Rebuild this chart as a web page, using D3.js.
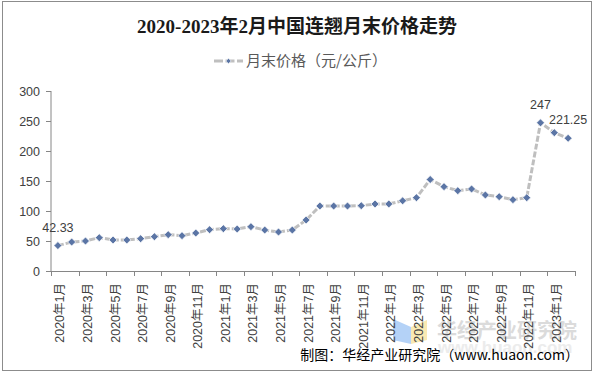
<!DOCTYPE html>
<html>
<head>
<meta charset="utf-8">
<script src="https://cdn.jsdelivr.net/npm/d3@7"></script>
<style>
html,body{margin:0;padding:0;background:#fff;}
svg{display:block;}
</style>
</head>
<body>
<svg id="chart" width="595" height="374"></svg>
<script>
const months = [
  "2020年1月","2020年2月","2020年3月","2020年4月","2020年5月","2020年6月","2020年7月","2020年8月","2020年9月","2020年10月","2020年11月","2020年12月",
  "2021年1月","2021年2月","2021年3月","2021年4月","2021年5月","2021年6月","2021年7月","2021年8月","2021年9月","2021年10月","2021年11月","2021年12月",
  "2022年1月","2022年2月","2022年3月","2022年4月","2022年5月","2022年6月","2022年7月","2022年8月","2022年9月","2022年10月","2022年11月","2022年12月",
  "2023年1月","2023年2月"
];
const prices = [
  42.33, 48.3, 50, 55.6, 51.7, 51.7, 53.9, 57.2, 60.6, 58.9, 63.3, 68.9,
  70.6, 70, 73.9, 68.3, 65, 68.3, 85, 108.3, 108.3, 108.3, 108.9, 111.7,
  111.7, 117, 122.2, 152.5, 140.6, 133.9, 136.7, 126.7, 123.9, 118.9, 122.2, 247,
  230.6, 221.25
];
const yTicks = [0, 50, 100, 150, 200, 250, 300];
const labeledIdx = [0, 35, 37];
const titleText = "2020-2023年2月中国连翘月末价格走势";
const legendText = "月末价格（元/公斤）";
const sourceText = "制图：华经产业研究院（www.huaon.com）";

const svg = d3.select("#chart");
const L = 51, R = 575, T = 91, B = 271;

// frame
svg.append("rect").attr("x", 2.5).attr("y", 1.5).attr("width", 589).attr("height", 369)
  .attr("fill", "#fff").attr("stroke", "#8c8c8c").attr("stroke-width", 1);

const x = d3.scaleBand().domain(months).range([L, R]).paddingInner(0).paddingOuter(0);
const y = d3.scaleLinear().domain([0, 300]).range([B, T]);

// watermark
const wm = svg.append("g").attr("opacity", 0.75);
wm.append("polygon").attr("points", "393,319 411,327 411,344 393,340").attr("fill", "#9cc3f5");
wm.append("polygon").attr("points", "411,327 427,320 427,340 411,344").attr("fill", "#f7e29a");
wm.append("text").attr("x", 437).attr("y", 338).text("华经产业研究院")
  .attr("font-family", "Noto Sans CJK SC").attr("font-weight", "bold").attr("font-size", 20)
  .attr("fill", "#cfcfcf");
wm.append("text").attr("x", 438).attr("y", 353).text("www.huaon.com")
  .attr("font-family", "Liberation Sans").attr("font-weight", "bold").attr("font-size", 17)
  .attr("fill", "#e6e6e6");

// title
svg.append("text").attr("x", 297).attr("y", 33).attr("text-anchor", "middle")
  .attr("font-family", "'Liberation Serif','Noto Sans CJK SC'").attr("font-weight", "bold")
  .attr("font-size", 19).attr("fill", "#1a1a1a").text(titleText);

// legend
const lg = svg.append("g");
lg.append("line").attr("x1", 214).attr("x2", 243).attr("y1", 61).attr("y2", 61)
  .attr("stroke", "#bfbfbf").attr("stroke-width", 3).attr("stroke-dasharray", "9,2.5");
lg.append("path").attr("d", d3.symbol(d3.symbolSquare, 14)())
  .attr("transform", "translate(228.5,61) rotate(45)").attr("fill", "#5b75a5")
  .attr("stroke", "#fff").attr("stroke-width", 0.6);
lg.append("text").attr("x", 246).attr("y", 66).text(legendText)
  .attr("font-family", "'Noto Sans CJK SC'").attr("font-size", 15).attr("fill", "#595959");

// y axis
const yAxis = svg.append("g");
yAxis.append("line").attr("x1", L).attr("x2", L).attr("y1", T).attr("y2", B).attr("stroke", "#868686");
yAxis.selectAll("line.t").data(yTicks).enter().append("line").attr("class", "t")
  .attr("x1", L - 5).attr("x2", L).attr("y1", d => Math.round(y(d)) + 0.5).attr("y2", d => Math.round(y(d)) + 0.5)
  .attr("stroke", "#868686");
yAxis.selectAll("text").data(yTicks).enter().append("text")
  .attr("x", 40).attr("y", d => y(d)).attr("dy", "0.36em").attr("text-anchor", "end")
  .attr("font-family", "'Liberation Sans',Arial").attr("font-size", 12.5).attr("fill", "#404040")
  .text(d => d);

// x axis
const xAxis = svg.append("g");
xAxis.append("line").attr("x1", L).attr("x2", R).attr("y1", B + 0.5).attr("y2", B + 0.5).attr("stroke", "#868686");
const tickPos = d3.range(0, months.length + 1, 2).map(i => i < months.length ? x(months[i]) : R);
xAxis.selectAll("line.t").data(tickPos).enter().append("line").attr("class", "t")
  .attr("x1", d => Math.round(d) + 0.5).attr("x2", d => Math.round(d) + 0.5).attr("y1", B).attr("y2", B + 5)
  .attr("stroke", "#868686");
xAxis.selectAll("text").data(months.filter((m, i) => i % 2 === 0)).enter().append("text")
  .attr("transform", d => `translate(${x(d) + x.bandwidth() / 2 + 2},${B + 12}) rotate(-90)`)
  .attr("dy", "0.36em").attr("text-anchor", "end")
  .attr("font-family", "'Liberation Sans','Noto Sans CJK SC'").attr("font-size", 12.5).attr("fill", "#404040")
  .text(d => d);

// line
const pts = months.map((m, i) => ({m, v: prices[i], i}));
const line = d3.line().x(d => x(d.m) + x.bandwidth() / 2).y(d => y(d.v));
svg.append("path").datum(pts).attr("d", line).attr("fill", "none")
  .attr("stroke", "#bfbfbf").attr("stroke-width", 3).attr("stroke-dasharray", "6,2");

// markers
svg.selectAll("path.mk").data(pts).enter().append("path").attr("class", "mk")
  .attr("d", d3.symbol(d3.symbolSquare, 32)())
  .attr("transform", d => `translate(${x(d.m) + x.bandwidth() / 2},${y(d.v)}) rotate(45)`)
  .attr("fill", "#5b75a5").attr("stroke", "#fff").attr("stroke-width", 0.7);

// data labels
svg.selectAll("text.dl").data(pts.filter(d => labeledIdx.includes(d.i))).enter().append("text").attr("class", "dl")
  .attr("x", d => x(d.m) + x.bandwidth() / 2)
  .attr("y", d => y(d.v) - 14)
  .attr("text-anchor", "middle")
  .attr("font-family", "'Liberation Sans',Arial").attr("font-size", 12.5).attr("fill", "#404040")
  .text(d => d.v);

// source
svg.append("text").attr("x", 579).attr("y", 360).attr("text-anchor", "end")
  .attr("font-family", "'Noto Sans CJK SC'").attr("font-size", 14).attr("fill", "#000")
  .text(sourceText);
</script>
</body>
</html>
